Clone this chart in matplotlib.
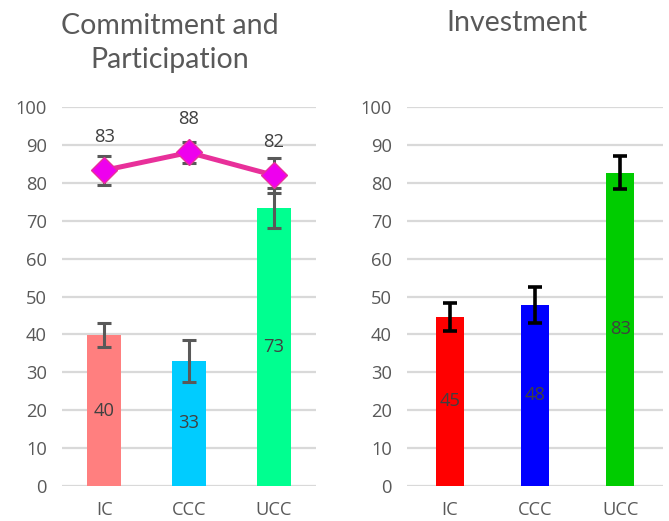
import matplotlib
matplotlib.use("Agg")
import matplotlib.pyplot as plt
import numpy as np

plt.rcParams['font.family'] = ['Open Sans', 'DejaVu Sans']

categories = ["IC", "CCC", "UCC"]

# Left panel: Commitment and Participation
commit_bars = [39.8, 33.0, 73.3]
commit_bar_err = [3.2, 5.5, 5.2]
commit_bar_labels = ["40", "33", "73"]
partic_line = [83.3, 88.0, 82.0]
partic_err = [3.8, 2.8, 4.6]
partic_labels = ["83", "88", "82"]

# Right panel: Investment
invest_bars = [44.6, 47.8, 82.7]
invest_err = [3.7, 4.7, 4.4]
invest_labels = ["45", "48", "83"]

yticks = [0, 10, 20, 30, 40, 50, 60, 70, 80, 90, 100]

left_colors = ["#FF7F7F", "#00CCFF", "#00FF90"]
right_colors = ["#FF0000", "#0000FF", "#00CC00"]

fig = plt.figure(figsize=(6.69, 5.21), dpi=100)
ax1 = fig.add_axes([0.0927, 0.0672, 0.3796, 0.7274])
ax2 = fig.add_axes([0.6084, 0.0672, 0.3826, 0.7274])

text_gray = "#595959"
grid_gray = "#D9D9D9"
fs = 13.2

def style(ax):
    ax.set_ylim(0, 100)
    ax.set_xlim(-0.5, 2.5)
    ax.set_yticks(yticks)
    ax.set_xticks(range(len(categories)))
    ax.set_xticklabels(categories)
    for s in ax.spines.values():
        s.set_visible(False)
    ax.tick_params(length=0, labelsize=fs, colors=text_gray)
    ax.tick_params(axis='y', pad=11)
    ax.tick_params(axis='x', pad=11)
    ax.yaxis.grid(True, color=grid_gray, linewidth=1.6)
    ax.set_axisbelow(True)

x = np.arange(len(categories))

style(ax1)
ax1.bar(x, commit_bars, width=0.4, color=left_colors, zorder=2)
ax1.errorbar(x, commit_bars, yerr=commit_bar_err, fmt='none', ecolor="#595959",
             elinewidth=2.2, capsize=5, capthick=2.2, zorder=3)
for xi, v, lab in zip(x, commit_bars, commit_bar_labels):
    ax1.text(xi, v / 2, lab, ha='center', va='center', fontsize=fs, color="#404040", zorder=4)
ax1.errorbar(x, partic_line, yerr=partic_err, fmt='none', ecolor="#595959",
             elinewidth=2.2, capsize=5, capthick=2.2, zorder=4)
ax1.plot(x, partic_line, color="#E8309A", linewidth=3.6, zorder=5,
         marker='D', markersize=13, markerfacecolor="#EE00EE", markeredgecolor="#E8309A",
         markeredgewidth=1)
for xi, v, lab in zip(x, partic_line, partic_labels):
    ax1.annotate(lab, (xi, v), textcoords='offset pixels', xytext=(0, 33),
                 ha='center', va='center', fontsize=fs, color="#404040", zorder=6)

style(ax2)
ax2.bar(x, invest_bars, width=0.33, color=right_colors, zorder=2)
ax2.errorbar(x, invest_bars, yerr=invest_err, fmt='none', ecolor="#000000",
             elinewidth=2.6, capsize=5, capthick=2.6, zorder=3)
for xi, v, lab in zip(x, invest_bars, invest_labels):
    ax2.text(xi, v / 2, lab, ha='center', va='center', fontsize=fs, color="#404040", zorder=4)

fig.text(170 / 669, 1 - 43 / 521, "Commitment and\nParticipation", ha='center', va='center',
         fontsize=20.5, color=text_gray, linespacing=1.4, family=['Lato', 'DejaVu Sans'])
fig.text(517 / 669, 1 - 23 / 521, "Investment", ha='center', va='center',
         fontsize=20.5, color=text_gray, family=['Lato', 'DejaVu Sans'])

fig.savefig("out.png", dpi=100)
